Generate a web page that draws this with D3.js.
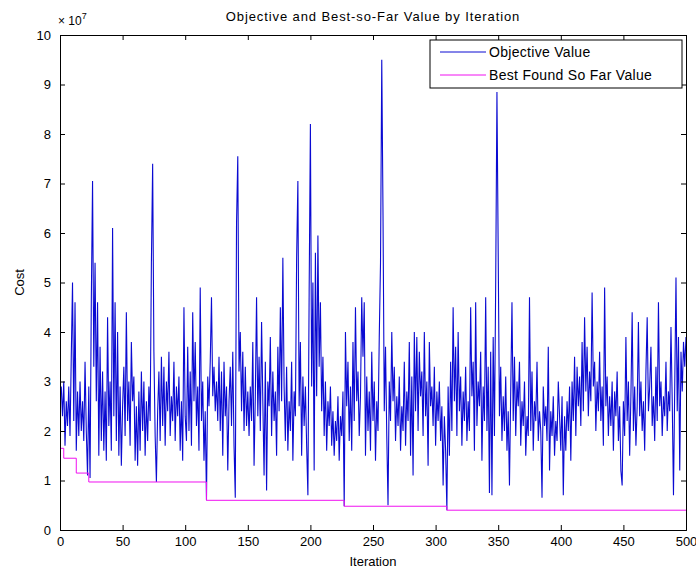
<!DOCTYPE html>
<html>
<head>
<meta charset="utf-8">
<script src="https://cdn.jsdelivr.net/npm/d3@7"></script>
<style>
  body { margin: 0; background: #fff; }
  text { font-family: "Liberation Sans", Arial, sans-serif; fill: #000; }
</style>
</head>
<body>
<svg id="chart" width="696" height="571"></svg>
<script>
// cost per iteration, in units of 1e7 (one row = 50 iterations)
const objectiveValues = [
    2.9, 2.3, 3.0, 1.7, 2.6, 2.1, 2.9, 1.9, 3.5, 5.0, 2.2, 4.6, 1.6, 2.8, 1.9, 3.0, 2.0, 2.6, 1.8, 3.4, 2.0, 1.1, 2.9, 1.05, 4.6, 7.05, 3.3, 5.4, 2.6, 4.6, 1.5, 3.7, 1.8, 3.2, 1.6, 2.8, 1.4, 4.3, 2.1, 3.0, 1.6, 6.1, 2.3, 4.6, 1.8, 4.0, 1.5, 2.9, 1.3, 2.5,
    3.3, 1.9, 4.4, 2.2, 3.0, 1.7, 3.8, 2.6, 3.1, 1.4, 2.5, 1.3, 2.8, 1.6, 3.2, 2.0, 3.0, 1.5, 2.6, 1.8, 2.9, 2.2, 5.4, 7.4, 3.6, 1.9, 0.97, 2.4, 3.2, 1.8, 3.5, 2.1, 3.3, 1.7, 3.0, 2.4, 3.6, 1.9, 2.7, 2.2, 3.4, 1.8, 2.9, 2.3, 3.1, 1.6, 2.6, 1.4, 4.5, 2.3,
    1.8, 3.7, 2.0, 3.2, 1.7, 4.4, 2.6, 3.8, 2.1, 2.9, 1.6, 4.9, 2.2, 3.0, 1.4, 2.4, 0.6, 3.1, 2.5, 3.4, 4.7, 2.7, 3.3, 2.4, 3.0, 2.2, 3.5, 2.0, 3.2, 1.5, 3.4, 2.3, 2.9, 1.2, 2.6, 3.3, 2.1, 3.6, 1.7, 0.65, 6.2, 7.55, 3.2, 4.0, 2.4, 3.6, 2.0, 3.3, 2.1, 2.8,
    1.9, 2.9, 2.2, 3.8, 1.3, 2.7, 4.7, 2.3, 3.5, 2.0, 4.2, 2.6, 1.1, 3.4, 0.8, 3.0, 2.5, 3.9, 1.9, 3.2, 2.2, 2.8, 1.5, 3.7, 2.4, 4.5, 2.6, 5.5, 2.9, 1.8, 3.3, 1.6, 2.6, 2.0, 3.4, 1.4, 2.8, 2.3, 5.5, 7.05, 2.5, 3.8, 1.5, 3.1, 2.1, 2.9, 1.7, 0.7, 4.8, 8.2,
    2.9, 5.0, 1.2, 5.6, 2.7, 5.95, 3.3, 4.6, 2.4, 3.5, 1.9, 3.0, 1.6, 2.6, 2.1, 2.9, 1.7, 2.4, 1.5, 2.2, 1.8, 2.7, 1.4, 2.3, 1.9, 2.8, 0.48, 4.0, 2.5, 3.4, 1.8, 2.9, 1.6, 3.8, 2.2, 4.5, 2.6, 3.2, 1.9, 2.7, 4.7, 3.5, 4.6, 1.5, 3.1, 2.0, 2.8, 1.6, 3.6, 2.2,
    3.0, 1.4, 2.6, 2.0, 3.9, 5.4, 9.5, 6.35, 2.4, 3.7, 1.9, 0.5, 3.0, 2.2, 4.0, 2.6, 3.3, 1.8, 2.7, 2.1, 3.1, 1.6, 2.5, 2.0, 3.4, 1.7, 2.8, 2.2, 3.8, 1.5, 3.1, 1.1, 4.0, 2.4, 3.9, 2.0, 3.6, 2.7, 3.2, 1.9, 4.0, 2.3, 3.0, 1.3, 3.8, 2.5, 2.9, 2.1, 3.3, 1.7,
    2.8, 2.2, 3.0, 1.8, 2.5, 0.9, 2.3, 1.6, 0.4, 2.9, 1.5, 3.4, 2.0, 4.5, 2.6, 3.7, 1.9, 4.0, 2.4, 3.1, 1.7, 2.8, 2.2, 3.3, 1.8, 2.6, 2.0, 4.5, 2.7, 3.4, 1.6, 4.6, 2.1, 3.0, 2.5, 3.6, 1.4, 2.9, 2.2, 4.7, 2.0, 3.3, 0.75, 3.6, 0.7, 3.9, 1.9, 5.0, 8.85, 5.6,
    2.3, 3.3, 1.8, 2.7, 2.0, 3.1, 1.6, 2.4, 0.9, 2.8, 4.6, 2.2, 3.5, 1.9, 3.0, 2.5, 3.4, 1.7, 2.6, 2.1, 3.0, 1.5, 2.3, 1.9, 4.7, 2.0, 3.2, 1.6, 2.6, 2.2, 3.4, 1.8, 2.4, 2.0, 0.65, 2.9, 2.1, 2.5, 1.8, 3.7, 1.2, 2.4, 1.9, 2.7, 1.5, 2.2, 1.8, 3.0, 2.3, 1.6,
    2.7, 0.7, 2.3, 1.6, 2.6, 2.0, 2.9, 1.4, 3.0, 2.2, 3.5, 1.9, 3.3, 2.5, 3.1, 2.1, 3.8, 2.4, 4.3, 2.8, 3.7, 2.3, 3.2, 2.6, 4.8, 2.9, 3.4, 2.0, 3.0, 2.4, 3.6, 2.2, 2.9, 1.7, 4.9, 2.5, 3.1, 1.9, 2.7, 2.1, 3.0, 1.6, 2.8, 2.3, 3.2, 1.8, 2.5, 1.2, 0.9, 2.6,
    1.9, 3.9, 2.2, 3.0, 1.5, 2.7, 4.4, 2.0, 2.9, 1.7, 2.5, 4.2, 2.3, 3.0, 2.0, 2.6, 1.6, 3.2, 4.3, 2.4, 2.9, 3.7, 2.1, 2.7, 1.8, 3.3, 2.2, 4.6, 2.5, 3.0, 1.9, 2.7, 2.3, 3.4, 2.0, 2.8, 2.4, 4.1, 2.6, 0.7, 2.9, 5.1, 2.4, 3.9, 1.2, 3.6, 2.8, 3.8, 3.3, 3.9
];

// best found so far: iteration where it changes and the new value (1e7)
const bestIterations = [0, 3, 13, 23, 117, 227, 309, 500];
const bestValues = [1.65, 1.45, 1.15, 0.97, 0.6, 0.48, 0.4, 0.4];

const xTicks = d3.range(0, 501, 50);
const yTicks = d3.range(0, 11, 1);
const legendLabels = ["Objective Value", "Best Found So Far Value"];
const seriesColors = ["#0a0ad2", "#f010f0"];

const plot = { left: 60, right: 686, top: 35, bottom: 530 };

const svg = d3.select("#chart");

const x = d3.scaleLinear().domain([0, 500]).range([plot.left, plot.right]);
const y = d3.scaleLinear().domain([0, 10]).range([plot.bottom, plot.top]);

svg.append("defs").append("clipPath")
    .attr("id", "plotClip")
    .append("rect")
    .attr("x", plot.left)
    .attr("y", plot.top)
    .attr("width", plot.right - plot.left)
    .attr("height", plot.bottom - plot.top);

// lines
const objectiveLine = d3.line()
    .x((d, i) => x(i + 1))
    .y(d => y(d));

const bestLine = d3.line()
    .x(d => x(d[0]))
    .y(d => y(d[1]))
    .curve(d3.curveStepAfter);

const lines = svg.append("g").attr("clip-path", "url(#plotClip)");

lines.append("path")
    .datum(objectiveValues)
    .attr("fill", "none")
    .attr("stroke", seriesColors[0])
    .attr("stroke-width", 1.1)
    .attr("d", objectiveLine);

lines.append("path")
    .datum(bestIterations.map((it, i) => [it, bestValues[i]]))
    .attr("fill", "none")
    .attr("stroke", seriesColors[1])
    .attr("stroke-width", 1)
    .attr("d", bestLine);

// axes, matlab style: ticks point inward on all four sides
const fontSize = "13px";

const bottomAxis = svg.append("g")
    .attr("transform", `translate(0,${plot.bottom})`)
    .call(d3.axisBottom(x).tickValues(xTicks).tickSize(-5).tickPadding(7));

const topAxis = svg.append("g")
    .attr("transform", `translate(0,${plot.top})`)
    .call(d3.axisTop(x).tickValues(xTicks).tickSize(-5).tickFormat(""));

const leftAxis = svg.append("g")
    .attr("transform", `translate(${plot.left},0)`)
    .call(d3.axisLeft(y).tickValues(yTicks).tickSize(-5).tickPadding(9));

const rightAxis = svg.append("g")
    .attr("transform", `translate(${plot.right},0)`)
    .call(d3.axisRight(y).tickValues(yTicks).tickSize(-5).tickFormat(""));

[bottomAxis, topAxis, leftAxis, rightAxis].forEach(a => {
    a.selectAll("path, line").attr("stroke", "#000").attr("stroke-width", 1);
    a.selectAll("text").style("font-size", fontSize).attr("fill", "#000");
});

// exponent label
const expLabel = svg.append("text")
    .attr("x", plot.left - 2)
    .attr("y", 25)
    .style("font-size", "12px");
expLabel.append("tspan").text("\u00d7 10");
expLabel.append("tspan")
    .attr("dy", -6)
    .style("font-size", "9px")
    .text("7");

// titles
svg.append("text")
    .attr("x", (plot.left + plot.right) / 2)
    .attr("y", 21)
    .attr("text-anchor", "middle")
    .style("font-size", "13px")
    .style("letter-spacing", "0.9px")
    .text("Objective and Best-so-Far Value by Iteration");

svg.append("text")
    .attr("x", (plot.left + plot.right) / 2)
    .attr("y", 566)
    .attr("text-anchor", "middle")
    .style("font-size", "13px")
    .text("Iteration");

svg.append("text")
    .attr("transform", `translate(24,${(plot.top + plot.bottom) / 2}) rotate(-90)`)
    .attr("text-anchor", "middle")
    .style("font-size", "13px")
    .text("Cost");

// legend
const legend = svg.append("g").attr("transform", "translate(430,40)");

legend.append("rect")
    .attr("width", 252)
    .attr("height", 48)
    .attr("fill", "#fff")
    .attr("stroke", "#000");

legendLabels.forEach((label, i) => {
    const ly = 12 + i * 23;
    legend.append("line")
        .attr("x1", 10).attr("x2", 56)
        .attr("y1", ly).attr("y2", ly)
        .attr("stroke", seriesColors[i]);
    legend.append("text")
        .attr("x", 59)
        .attr("y", ly + 5)
        .style("font-size", "14px")
        .style("letter-spacing", "0.3px")
        .text(label);
});
</script>
</body>
</html>
